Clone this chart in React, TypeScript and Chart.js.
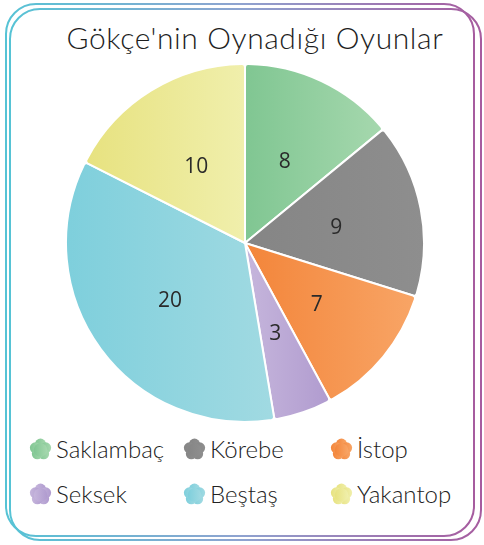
import React, { useEffect, useRef } from 'react';
import { Chart, registerables } from 'chart.js';

Chart.register(...registerables);

const TITLE = "Gökçe'nin Oynadığı Oyunlar";
const labels = ['Saklambaç', 'Körebe', 'İstop', 'Seksek', 'Beştaş', 'Yakantop'];
const values = [8, 9, 7, 3, 20, 10];
const colorsStart = ['#80c692', '#858585', '#f3853a', '#c6b6dc', '#7ecfdc', '#e7e27f'];
const colorsEnd = ['#a6d8ae', '#8e8e8e', '#f8a566', '#b09bcf', '#a1dae2', '#f0efac'];

function sliceGradient(ctx: any) {
  const chart = ctx.chart;
  const area = chart.chartArea;
  const i = ctx.dataIndex;
  if (!area || i === undefined) return colorsStart[i ?? 0];
  const cx = (area.left + area.right) / 2;
  const r = Math.min(area.width, area.height) / 2;
  const total = values.reduce((a, b) => a + b, 0);
  let before = 0;
  for (let k = 0; k < i; k++) before += values[k];
  const a0 = -Math.PI / 2 + (before / total) * 2 * Math.PI;
  const a1 = a0 + (values[i] / total) * 2 * Math.PI;
  const xs = [cx, cx + r * Math.cos(a0), cx + r * Math.cos(a1)];
  for (const c of [0, Math.PI]) {
    if (c >= a0 && c <= a1) xs.push(cx + r * Math.cos(c));
  }
  const x0 = Math.min(...xs);
  const x1 = Math.max(...xs);
  const g = chart.ctx.createLinearGradient(x0, 0, x1, 0);
  g.addColorStop(0, colorsStart[i]);
  g.addColorStop(1, colorsEnd[i]);
  return g;
}

const valueLabels = {
  id: 'valueLabels',
  afterDatasetsDraw(chart: any) {
    const meta = chart.getDatasetMeta(0);
    const c = chart.ctx;
    c.save();
    c.font = '21px "Open Sans"';
    c.fillStyle = '#2a2a2a';
    c.textAlign = 'center';
    c.textBaseline = 'middle';
    meta.data.forEach((arc: any, i: number) => {
      const p = arc.getProps(['x', 'y', 'startAngle', 'endAngle', 'outerRadius'], true);
      const mid = (p.startAngle + p.endAngle) / 2;
      const d = p.outerRadius * 0.52;
      c.fillText(String(values[i]), p.x + Math.cos(mid) * d, p.y + Math.sin(mid) * d + 3);
    });
    c.restore();
  },
};

function Flower({ i }: { i: number }) {
  const petals = [0, 1, 2, 3, 4].map((k) => {
    const a = (-90 + 72 * k) * (Math.PI / 180);
    return <circle key={k} cx={Math.cos(a) * 5.4} cy={Math.sin(a) * 5.4} r={5.5} />;
  });
  return (
    <svg width={25} height={25} viewBox="-12.5 -12.5 25 25" style={{ display: 'block' }}>
      <defs>
        <linearGradient id={'fg' + i} x1="0" x2="1" y1="0" y2="0">
          <stop offset="0" stopColor={colorsStart[i]} />
          <stop offset="1" stopColor={colorsEnd[i]} />
        </linearGradient>
      </defs>
      <g fill={'url(#fg' + i + ')'}>
        {petals}
        <circle cx={0} cy={0.5} r={6.8} />
      </g>
    </svg>
  );
}

const colX = [28, 182, 329];
const rowY = [435, 480];

export default function App() {
  const ref = useRef<HTMLCanvasElement | null>(null);

  useEffect(() => {
    if (!ref.current) return;
    const chart = new Chart(ref.current, {
      type: 'pie',
      data: {
        labels,
        datasets: [
          {
            data: values,
            backgroundColor: sliceGradient as any,
            borderColor: '#ffffff',
            borderWidth: 2,
            borderRadius: 3,
          },
        ],
      },
      options: {
        animation: false,
        responsive: true,
        maintainAspectRatio: false,
        layout: { padding: 0 },
        plugins: {
          legend: { display: false },
          tooltip: { enabled: false },
          title: { display: false },
        },
      },
      plugins: [valueLabels],
    });
    return () => chart.destroy();
  }, []);

  return (
    <div
      style={{
        position: 'fixed',
        left: 0,
        top: 0,
        width: 484,
        height: 545,
        background: '#ffffff',
        overflow: 'hidden',
        fontFamily: 'Lato, "Open Sans", sans-serif',
        color: '#2a2a2a',
      }}
    >
      <svg width={484} height={545} style={{ position: 'absolute', left: 0, top: 0 }}>
        <defs>
          <linearGradient id="frameGrad" x1="0" x2="1" y1="0" y2="0">
            <stop offset="0" stopColor="#56c3d5" />
            <stop offset="0.5" stopColor="#8fa3d0" />
            <stop offset="1" stopColor="#a65c9f" />
          </linearGradient>
        </defs>
        <rect x={6} y={4} width={468} height={532} rx={30} fill="none" stroke="url(#frameGrad)" strokeWidth={2} />
        <rect x={10} y={9} width={471} height={531} rx={30} fill="none" stroke="url(#frameGrad)" strokeWidth={2} />
      </svg>
      <div
        style={{
          position: 'absolute',
          left: 0,
          top: 16,
          width: 510,
          textAlign: 'center',
          fontSize: 30,
          fontWeight: 300,
          lineHeight: '42px',
          letterSpacing: 0.6,
          color: '#1e1e1e',
        }}
      >
        {TITLE}
      </div>
      <div style={{ position: 'absolute', left: 65, top: 63, width: 360, height: 360 }}>
        <canvas ref={ref} />
      </div>
      {labels.map((lab, i) => (
        <div
          key={lab}
          style={{
            position: 'absolute',
            left: colX[i % 3],
            top: rowY[Math.floor(i / 3)],
            display: 'flex',
            alignItems: 'center',
            height: 28,
            fontSize: 24,
            fontWeight: 300,
            color: '#222',
          }}
        >
          <Flower i={i} />
          <span style={{ marginLeft: 3, lineHeight: '28px' }}>{lab}</span>
        </div>
      ))}
    </div>
  );
}
